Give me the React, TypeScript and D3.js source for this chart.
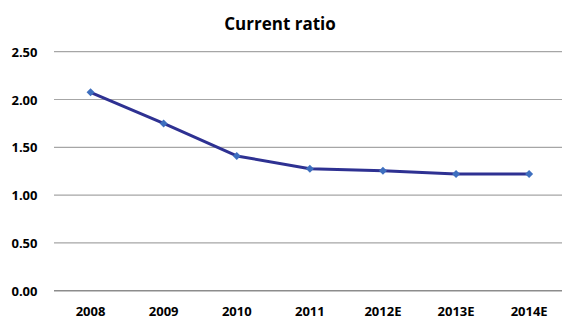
import React from "react";
import * as d3 from "d3";

const categories = ["2008", "2009", "2010", "2011", "2012E", "2013E", "2014E"];
const values = [2.075, 1.75, 1.41, 1.275, 1.255, 1.22, 1.22];
const yTicks = [0, 0.5, 1.0, 1.5, 2.0, 2.5];
const title = "Current ratio";

export default function App() {
  const W = 562, H = 322;
  const left = 54, right = 565.7, top = 51.7, bottom = 290.7;
  const x = d3.scaleBand<string>().domain(categories).range([left, right]);
  const y = d3.scaleLinear().domain([0, 2.5]).range([bottom, top]);
  const cx = (c: string) => (x(c) as number) + x.bandwidth() / 2;
  const line = d3.line<number>().x((_, i) => cx(categories[i])).y((d) => y(d));
  const font = "'Open Sans', sans-serif";
  return (
    <svg width={W} height={H} style={{ position: "absolute", left: 0, top: 0 }}>
      <rect width={W} height={H} fill="#fff" />
      <text x={280} y={30} textAnchor="middle" fontFamily={font} fontWeight={700} fontSize={17} fill="#000">
        {title}
      </text>
      {yTicks.map((t) => (
        <g key={t}>
          <line x1={left} x2={W} y1={y(t)} y2={y(t)} stroke={t === 0 ? "#8c8c8c" : "#a6a6a6"} strokeWidth={t === 0 ? 1.5 : 1.2} />
          <text x={37.5} y={y(t) + 5} textAnchor="end" fontFamily={font} fontWeight={700} fontSize={13} fill="#000">
            {t.toFixed(2)}
          </text>
        </g>
      ))}
      {categories.map((c) => (
        <text key={c} x={cx(c)} y={316} textAnchor="middle" fontFamily={font} fontWeight={700} fontSize={13} fill="#000">
          {c}
        </text>
      ))}
      <path d={line(values) || ""} fill="none" stroke="#2e3192" strokeWidth={3} strokeLinejoin="round" />
      {values.map((v, i) => {
        const px = cx(categories[i]), py = y(v);
        return (
          <path key={i} d={`M${px},${py - 4}L${px + 4},${py}L${px},${py + 4}L${px - 4},${py}Z`} fill="#3e6fbf" />
        );
      })}
    </svg>
  );
}
